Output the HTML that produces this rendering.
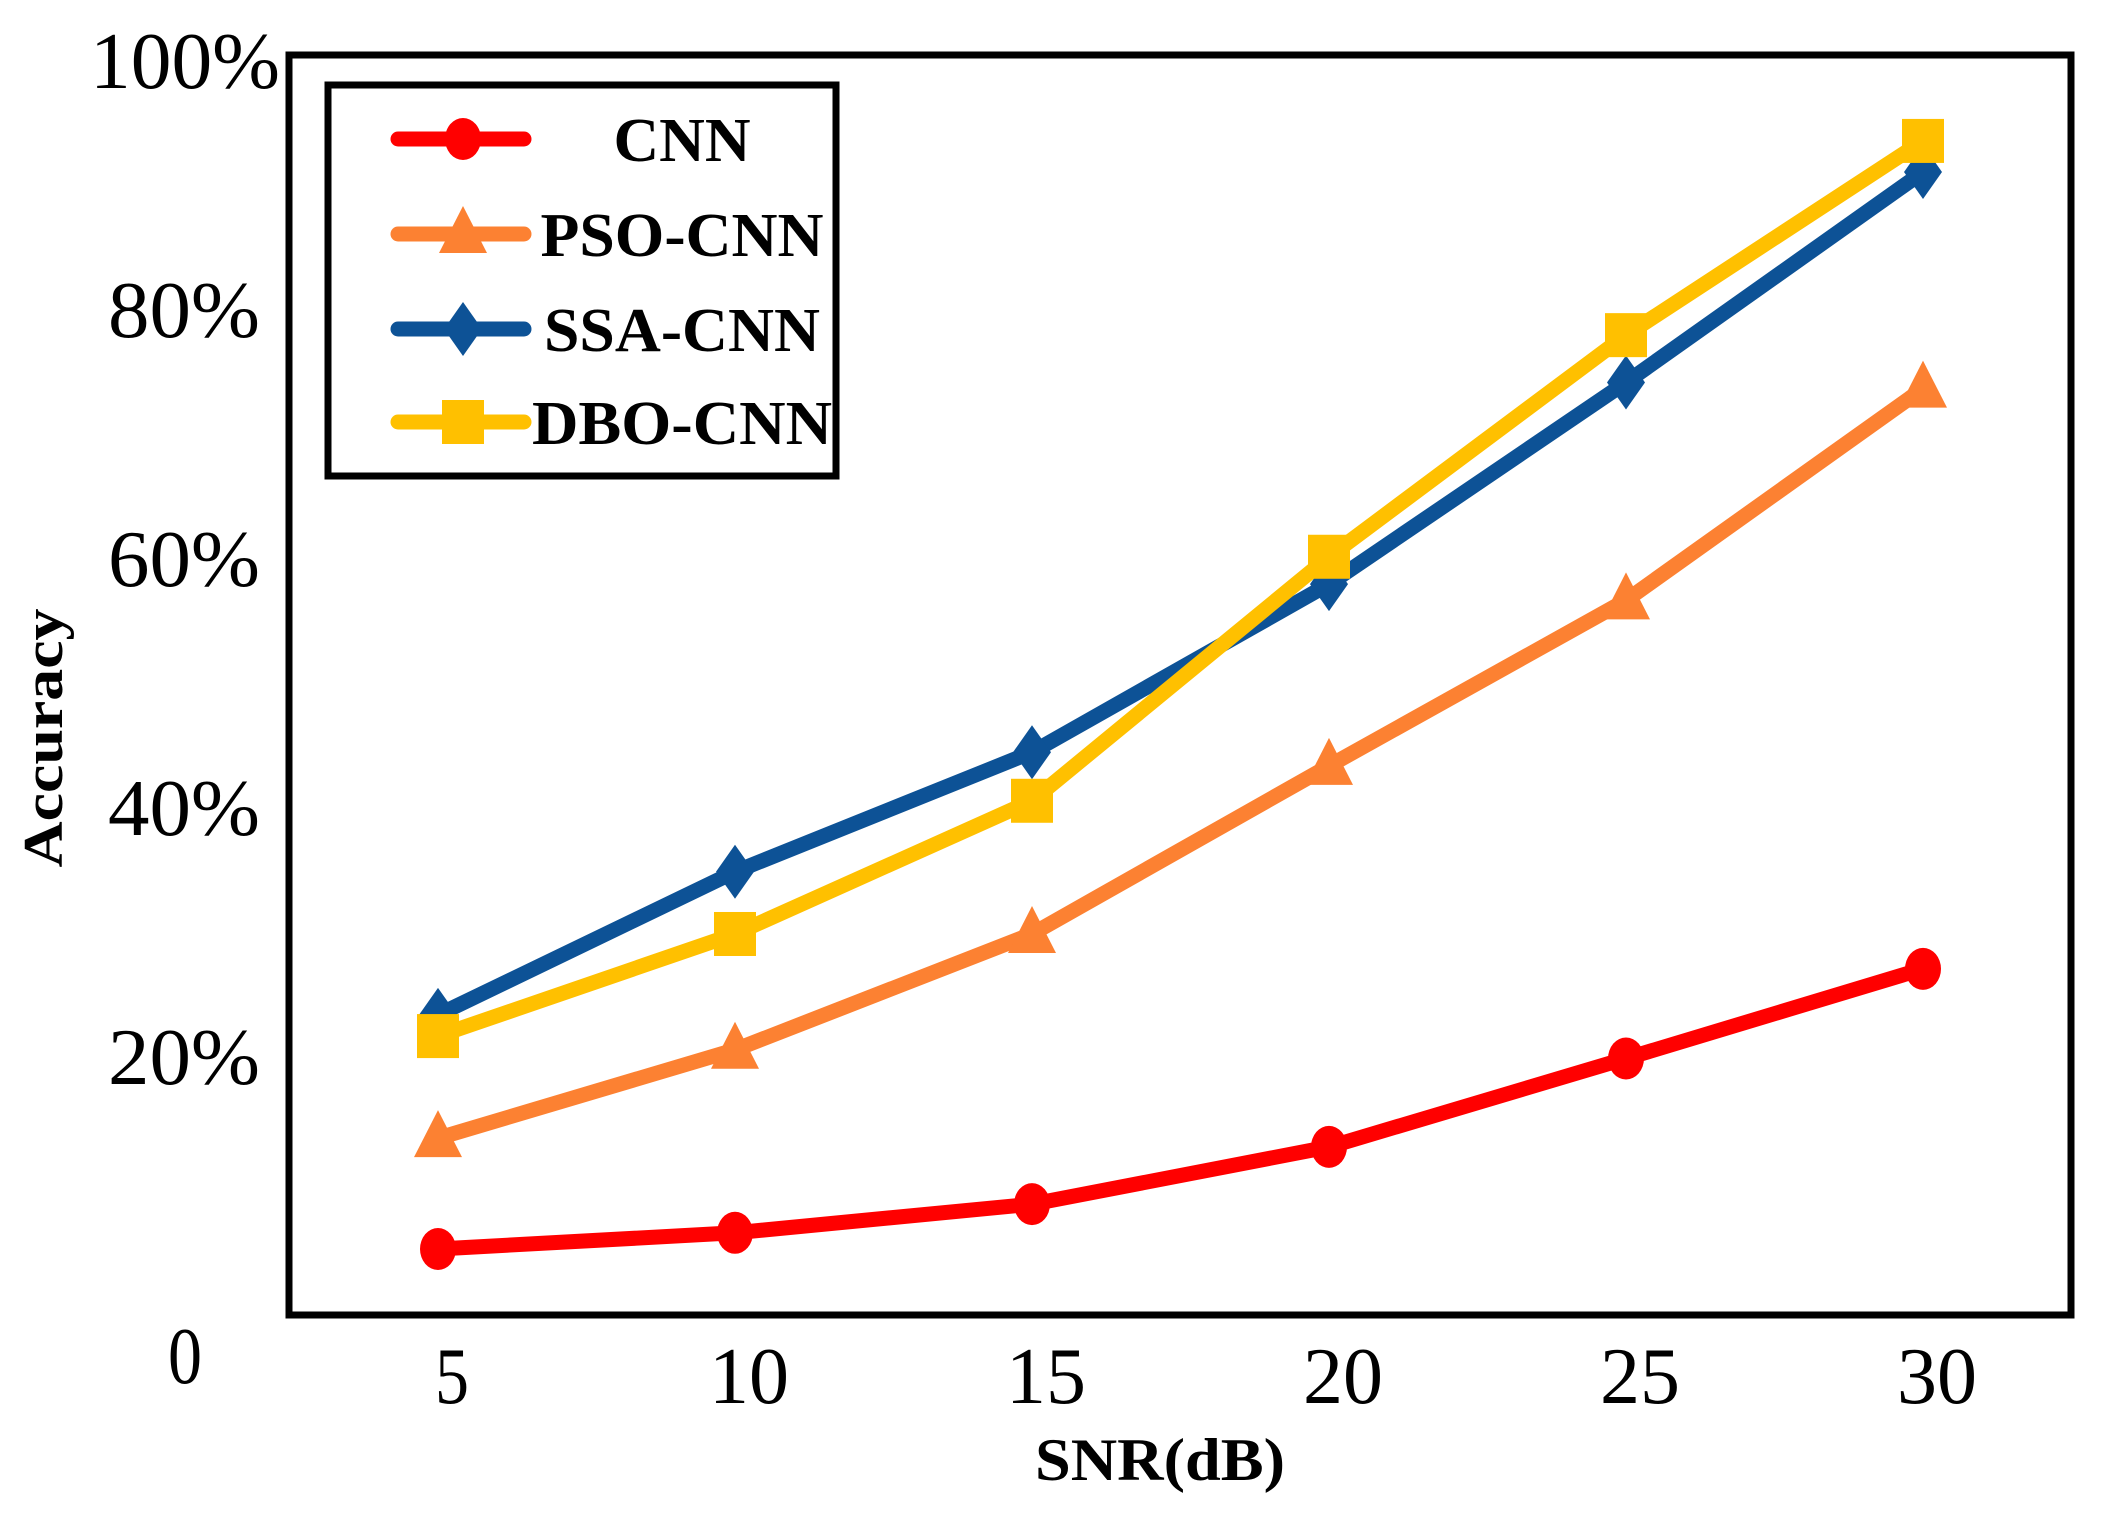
<!DOCTYPE html>
<html><head><meta charset="utf-8"><style>
html,body{margin:0;padding:0;background:#fff;}
svg{display:block;}
</style></head><body>
<svg id="chart" width="2117" height="1513" viewBox="0 0 2117 1513" xmlns="http://www.w3.org/2000/svg">
<rect x="0" y="0" width="2117" height="1513" fill="#fff"/>
<rect x="289" y="55" width="1782" height="1260" fill="none" stroke="#000" stroke-width="7"/>
<g id="yticks" font-family="Liberation Serif, serif" font-size="80" fill="#000"></g>
<g id="xticks" font-family="Liberation Serif, serif" font-size="80" fill="#000"></g>
<g id="series"></g>
<text transform="translate(62,738) rotate(-90)" text-anchor="middle" font-family="Liberation Serif, serif" font-weight="bold" font-size="56" textLength="259" lengthAdjust="spacingAndGlyphs">Accuracy</text>
<text x="1160" y="1480" text-anchor="middle" font-family="Liberation Serif, serif" font-weight="bold" font-size="60" textLength="250" lengthAdjust="spacingAndGlyphs">SNR(dB)</text>
<g>
<rect x="328" y="85" width="508" height="391" fill="#fff" stroke="#000" stroke-width="7"/>
<g id="legend-items"></g>
</g>
</svg>
<script>
const categories = [5, 10, 15, 20, 25, 30];
const seriesNames = ["CNN", "PSO-CNN", "SSA-CNN", "DBO-CNN"];
const cnnValues = [4.5, 5.8, 8.1, 12.7, 19.8, 27.0];
const psoValues = [13.4, 20.5, 29.8, 43.3, 56.6, 73.6];
const ssaValues = [23.3, 34.8, 44.4, 57.9, 74.1, 91.0];
const dboValues = [21.6, 29.8, 40.5, 60.1, 77.9, 93.5];
const yTickValues = [0, 20, 40, 60, 80, 100];
const yTickLabels = ["0", "20%", "40%", "60%", "80%", "100%"];

const NS = "http://www.w3.org/2000/svg";
function xScale(v){ return 438 + (v - 5) * 59.4; }
function yScale(v){ return 1305 - v * 12.45; }
function mk(tag, attrs, parent){ const e=document.createElementNS(NS,tag); for(const k in attrs) e.setAttribute(k,attrs[k]); parent.appendChild(e); return e; }

const yt=document.getElementById('yticks');
yTickValues.forEach((v,i)=>{
  const isZero = v===0;
  const t=mk('text',{x: isZero?202:(v===100?280:260), y: isZero?1383:yScale(v)+28, 'text-anchor': 'end', textLength: isZero?34:(v===100?190:152), lengthAdjust:'spacingAndGlyphs'},yt);
  
  
  t.textContent=yTickLabels[i];
});
const xt=document.getElementById('xticks');
categories.forEach((c,i)=>{
  const t=mk('text',{x:xScale(c)+14, y:1403, 'text-anchor':'middle', textLength: c<10?34:80, lengthAdjust:'spacingAndGlyphs'},xt);
  
  
  t.textContent=String(c);
});

const styles=[
  {vals:cnnValues,color:'#ff0000',marker:'circle'},
  {vals:psoValues,color:'#fc8132',marker:'triangle'},
  {vals:ssaValues,color:'#0d5296',marker:'diamond'},
  {vals:dboValues,color:'#ffc000',marker:'square'}
];
function marker(type,x,y,color,parent){
  let e;
  if(type==='circle') e=mk('ellipse',{cx:x,cy:y,rx:18,ry:21,fill:color},parent);
  else if(type==='square') e=mk('rect',{x:x-21,y:y-22,width:42,height:44,fill:color},parent);
  else if(type==='triangle') e=mk('polygon',{points:`${x},${y-28} ${x+24},${y+19} ${x-24},${y+19}`,fill:color},parent);
  else e=mk('polygon',{points:`${x},${y-27} ${x+19},${y} ${x},${y+27} ${x-19},${y}`,fill:color},parent);
  return e;
}
const sg=document.getElementById('series');
styles.forEach((s,si)=>{
  const g=mk('g',{},sg);
  
  
  const pts=s.vals.map((v,i)=>xScale(categories[i])+','+yScale(v)).join(' ');
  const pl=mk('polyline',{points:pts,fill:'none',stroke:s.color,'stroke-width':15,'stroke-linejoin':'round'},g);
  
  
  s.vals.forEach((v,i)=>{
    const m=marker(s.marker,xScale(categories[i]),yScale(v),s.color,g);
    
    
  });
});

const lg=document.getElementById('legend-items');
const legY=[139,234,329,422];
const legLen=[137,283,276,300];
styles.forEach((s,si)=>{
  const g=mk('g',{},lg);
  
  
  mk('line',{x1:398,y1:legY[si],x2:524,y2:legY[si],stroke:s.color,'stroke-width':15,'stroke-linecap':'round'},g);
  marker(s.marker,463,legY[si],s.color,g);
  const t=mk('text',{x:682,y:legY[si]+22,'text-anchor':'middle','font-family':'Liberation Serif, serif','font-weight':'bold','font-size':62,textLength:legLen[si],lengthAdjust:'spacingAndGlyphs'},g);
  
  
  t.textContent=seriesNames[si];
});
</script>
</body></html>
